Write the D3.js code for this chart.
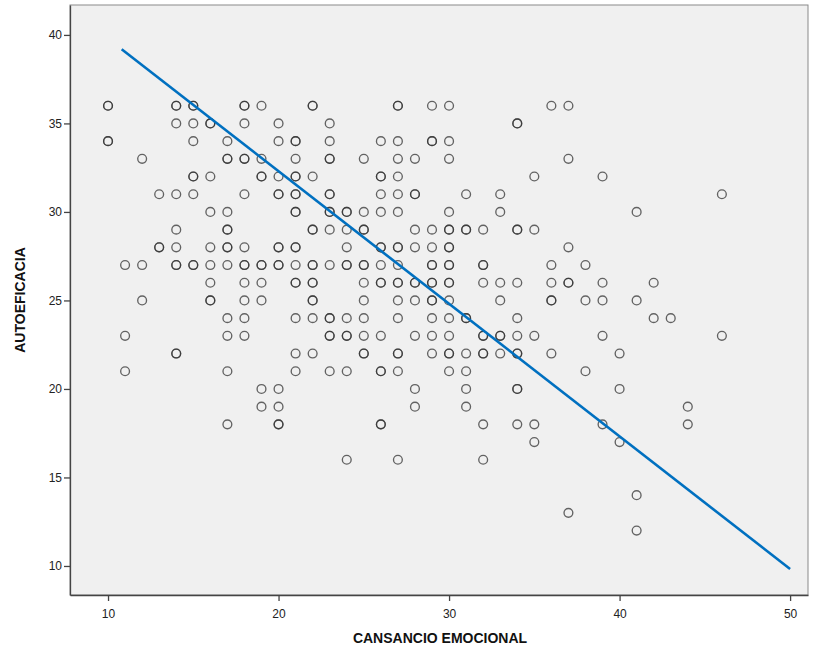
<html>
  <head>
    <style>
      body { margin: 0; background: #fff; }
      .tick text { font-family: "Liberation Sans", Arial, sans-serif; font-size: 12px; fill: #222; }
      .axis-title { font-family: "Liberation Sans", Arial, sans-serif; font-size: 14px; font-weight: bold; fill: #111; }
      .pt { fill: none; stroke: #333; stroke-opacity: .75; stroke-width: 1.35px; }
    </style>
  </head>
  <body>
    <script src="https://d3js.org/d3.v7.min.js"></script>
    <script>
    var width = 817, height = 658;

    // AUTOEFICACIA values (one row per value) and the CANSANCIO EMOCIONAL scores seen in that row
    // repeated x = overlapping cases (drawn darker)
    var rowY = [36, 35, 34, 33, 32, 31, 30, 29, 28, 27, 26, 25, 24, 23, 22, 21, 20, 19, 18, 17, 16, 14, 13, 12];
    var rowX = [
      [10,10,14,14,15,15,18,18,19,22,22,27,27,29,30,36,37],
      [14,15,16,16,18,20,23,34,34],
      [10,10,15,17,20,21,21,23,26,27,29,29,30],
      [12,17,17,18,18,19,21,23,23,25,27,28,30,37],
      [15,15,16,19,19,20,21,21,22,26,26,27,35,39],
      [13,14,15,18,20,20,21,21,23,23,26,27,28,28,31,33,46],
      [16,17,21,21,23,23,24,24,25,26,27,30,33,41],
      [14,17,17,22,22,23,24,25,25,28,29,30,30,31,31,32,34,34,35],
      [13,13,14,16,17,17,18,20,20,21,21,24,26,26,27,27,28,29,30,30,37],
      [11,12,14,14,15,15,16,17,18,18,19,19,20,20,21,22,22,23,24,24,25,25,26,27,29,29,30,30,32,32,36,38],
      [16,18,19,21,21,22,22,25,26,26,27,27,28,28,29,29,30,30,32,33,34,36,37,37,39,42],
      [12,16,16,18,19,22,22,25,27,28,29,29,30,33,36,36,38,39,41],
      [17,18,21,22,23,23,24,25,27,29,30,31,31,34,42,43],
      [11,17,18,23,23,24,24,25,26,28,29,30,32,32,33,33,34,35,39,46],
      [14,14,21,22,25,25,27,27,29,30,30,31,32,32,33,34,34,36,40],
      [11,17,21,23,24,26,26,27,30,31,38],
      [19,20,28,31,34,34,40],
      [19,20,28,31,44],
      [17,20,20,26,26,32,34,35,39,44],
      [35,40],
      [24,27,32],
      [41],
      [37],
      [41]
    ];

    // linear fit line
    var fitIntercept = 47.28, fitSlope = -0.749;
    var fitX = [10.8, 50];

    var xTicks = [10, 20, 30, 40, 50];
    var yTicks = [10, 15, 20, 25, 30, 35, 40];

    var points = [];
    rowY.forEach(function(y, i) {
      rowX[i].forEach(function(x) { points.push({x: x, y: y}); });
    });

    var plot = {left: 70, top: 5, right: 808, bottom: 595};

    var x = d3.scaleLinear().domain([7.77, 51.05]).range([plot.left, plot.right]);
    var y = d3.scaleLinear().domain([8.36, 41.69]).range([plot.bottom, plot.top]);

    var svg = d3.select("body")
        .append("svg")
        .attr("width", width)
        .attr("height", height);

    svg.append("rect")
        .attr("x", plot.left)
        .attr("y", plot.top)
        .attr("width", plot.right - plot.left)
        .attr("height", plot.bottom - plot.top)
        .attr("fill", "#f0f0f0")
        .attr("stroke", "#8a8a8a")
        .attr("stroke-width", 1);

    var xAxis = svg.append("g")
        .attr("transform", "translate(0," + plot.bottom + ")")
        .call(d3.axisBottom(x).tickValues(xTicks).tickSize(6).tickSizeOuter(0).tickPadding(4));
    var yAxis = svg.append("g")
        .attr("transform", "translate(" + plot.left + ",0)")
        .call(d3.axisLeft(y).tickValues(yTicks).tickSize(6).tickSizeOuter(0).tickPadding(2));

    [xAxis, yAxis].forEach(function(g) {
      g.select(".domain").attr("stroke", "#444").attr("stroke-width", 1.3);
      g.selectAll(".tick line").attr("stroke", "#444").attr("stroke-width", 1.3);
    });
    xAxis.selectAll(".tick text").attr("dy", "1.05em");

    svg.append("g")
      .selectAll("circle")
      .data(points)
      .enter().append("circle")
        .attr("class", "pt")
        .attr("cx", function(d) { return x(d.x); })
        .attr("cy", function(d) { return y(d.y); })
        .attr("r", 4.4);

    svg.append("line")
        .attr("x1", x(fitX[0]))
        .attr("y1", y(fitIntercept + fitSlope * fitX[0]))
        .attr("x2", x(fitX[1]))
        .attr("y2", y(fitIntercept + fitSlope * fitX[1]))
        .attr("stroke", "#0070c0")
        .attr("stroke-width", 2.6);

    svg.append("text")
        .attr("class", "axis-title")
        .attr("text-anchor", "middle")
        .attr("x", (plot.left + plot.right) / 2 + 1)
        .attr("y", 643)
        .text("CANSANCIO EMOCIONAL");

    svg.append("text")
        .attr("class", "axis-title")
        .attr("text-anchor", "middle")
        .attr("transform", "translate(25," + (plot.top + plot.bottom) / 2 + ") rotate(-90)")
        .text("AUTOEFICACIA");
    </script>
  </body>
</html>
